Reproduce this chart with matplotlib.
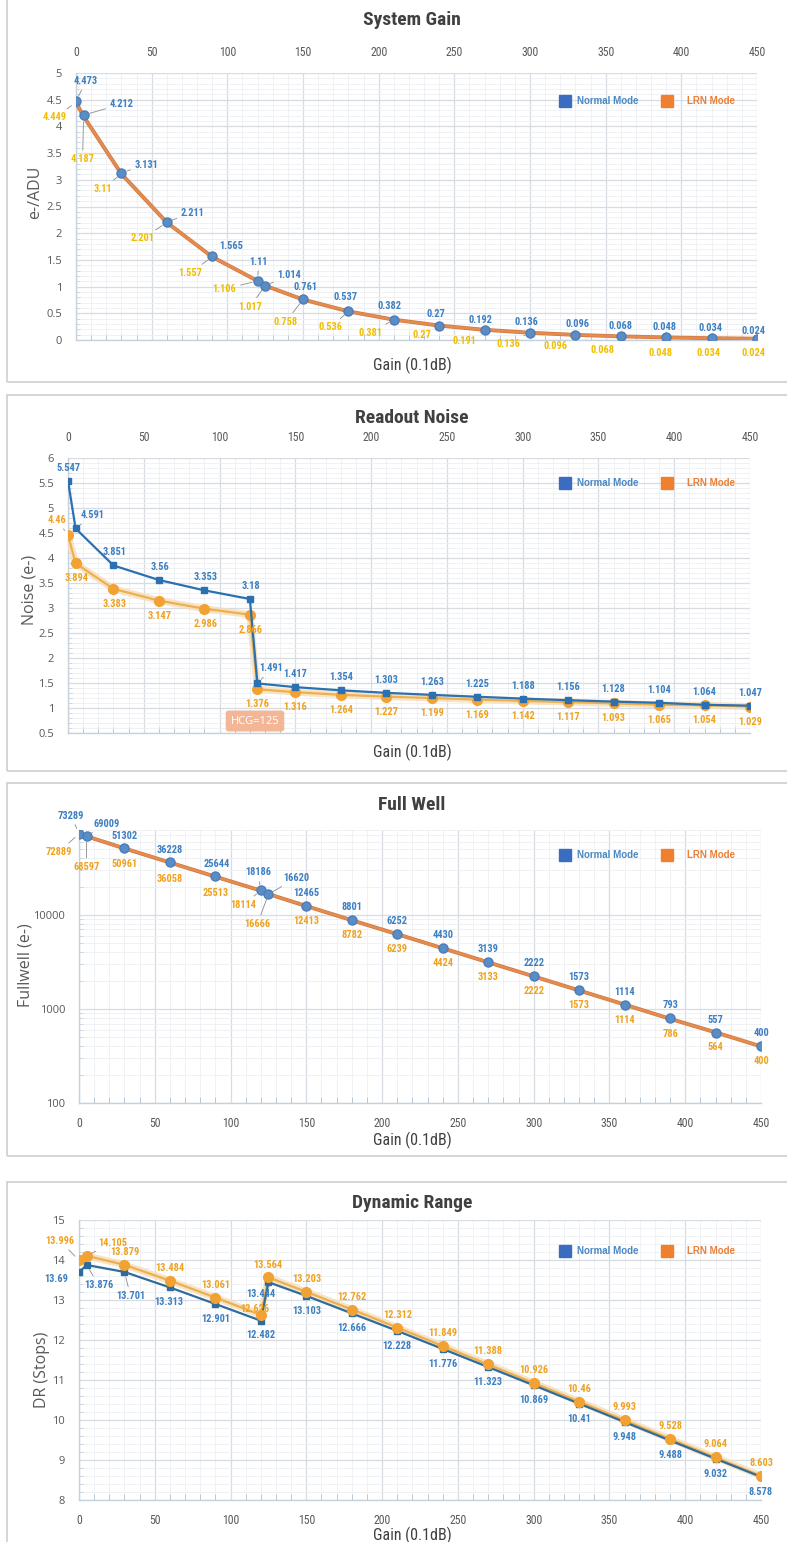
import matplotlib
matplotlib.use('Agg')
import matplotlib.pyplot as plt
from matplotlib import font_manager as fm
from matplotlib.font_manager import FontProperties
from matplotlib.ticker import MultipleLocator, FuncFormatter, LogLocator, NullFormatter, FixedLocator
from matplotlib.patches import Rectangle
from matplotlib.lines import Line2D
import matplotlib.patheffects as pe

# ---------------- DATA ----------------
gain = [0, 5, 30, 60, 90, 120, 125, 150, 180, 210, 240, 270, 300, 330, 360, 390, 420, 450]

sg_normal = [4.473, 4.212, 3.131, 2.211, 1.565, 1.11, 1.014, 0.761, 0.537, 0.382, 0.27, 0.192,
             0.136, 0.096, 0.068, 0.048, 0.034, 0.024]
sg_lrn = [4.449, 4.187, 3.11, 2.201, 1.557, 1.106, 1.017, 0.758, 0.536, 0.381, 0.27, 0.191,
          0.136, 0.096, 0.068, 0.048, 0.034, 0.024]

rn_normal = [5.547, 4.591, 3.851, 3.56, 3.353, 3.18, 1.491, 1.417, 1.354, 1.303, 1.263, 1.225,
             1.188, 1.156, 1.128, 1.104, 1.064, 1.047]
rn_lrn = [4.46, 3.894, 3.383, 3.147, 2.986, 2.866, 1.376, 1.316, 1.264, 1.227, 1.199, 1.169,
          1.142, 1.117, 1.093, 1.065, 1.054, 1.029]

fw_normal = [73289, 69009, 51302, 36228, 25644, 18186, 16620, 12465, 8801, 6252, 4430, 3139,
             2222, 1573, 1114, 793, 557, 400]
fw_lrn = [72889, 68597, 50961, 36058, 25513, 18114, 16666, 12413, 8782, 6239, 4424, 3133,
          2222, 1573, 1114, 786, 564, 400]

dr_normal = [13.69, 13.876, 13.701, 13.313, 12.901, 12.482, 13.444, 13.103, 12.666, 12.228,
             11.776, 11.323, 10.869, 10.41, 9.948, 9.488, 9.032, 8.578]
dr_lrn = [13.996, 14.105, 13.879, 13.484, 13.061, 12.626, 13.564, 13.203, 12.762, 12.312,
          11.849, 11.388, 10.926, 10.46, 9.993, 9.528, 9.064, 8.603]

titles = ["System Gain", "Readout Noise", "Full Well", "Dynamic Range"]
ylabels = ["e-/ADU", "Noise (e-)", "Fullwell (e-)", "DR (Stops)"]
xlabel = "Gain (0.1dB)"
legend_names = ["Normal Mode", "LRN Mode"]
hcg_note = "HCG=125"

# ---------------- STYLE (label offsets in pixels: dx right, dy down) ----------------
SG_N_OFF = [(10, -20), (38, -11), (25, -8), (26, -9), (19, -10), (1, -19), (24, -11), (2, -12),
            (-3, -14), (-4, -14), (-3, -12), (-4, -10), (-4, -11), (2, -11), (0, -10), (-2, -10),
            (-1, -10), (-3, -8)]
SG_N_LEAD = {0, 1, 2, 3, 4, 5, 6}
SG_L_OFF = [(-21, 15), (-1, 43), (-19, 15), (-24, 16), (-22, 16), (-33, 8), (-15, 21), (-17, 22),
            (-18, 16), (-23, 13), (-17, 9), (-20, 11), (-22, 11), (-20, 11), (-18, 14), (-6, 16),
            (-3, 15), (-4, 14)]
SG_L_LEAD = set(range(14))

RN_N_OFF = [(1, -13), (17, -13)] + [(1, -13)] * 4 + [(14, -15)] + [(0, -13)] * 11
RN_N_LEAD = {1, 6}
RN_L_OFF = [(-11, -15)] + [(1, 15)] * 5 + [(0, 15)] * 12
RN_L_LEAD = {0}

FW_N_OFF = [(-8, -18), (20, -12), (0, -12), (0, -12), (1, -12), (-3, -18), (28, -16)] + [(0, -13)] * 11
FW_N_LEAD = {0, 1, 5, 6}
FW_L_OFF = [(-20, 18), (0, 31), (0, 16), (0, 16), (0, 16), (-18, 14), (-11, 30)] + [(0, 15)] * 11
FW_L_LEAD = {0, 1, 5, 6}

DR_N_OFF = [(-23, 7), (12, 20), (6, 24), (-1, 15), (0, 15), (0, 14), (-8, 12)] + [(0, 15)] * 11
DR_N_LEAD = {1, 2}
DR_L_OFF = [(-19, -19), (26, -13), (0, -13), (0, -13), (0, -13), (-6, -6), (-1, -12)] + [(0, -13)] * 11
DR_L_LEAD = {0, 1}


# ---------------- fonts ----------------
def _w(f):
    w = f.weight
    if isinstance(w, str):
        w = {'bold': 700, 'normal': 400, 'regular': 400, 'medium': 500, 'semibold': 600,
             'light': 300, 'black': 900, 'heavy': 900, 'demibold': 600}.get(w.lower(), 400)
    return w


def find_condensed(target):
    pref = ['roboto condensed', 'liberation sans narrow', 'open sans condensed', 'dejavu sans',
            'noto sans', 'open sans', 'lato', 'inter']
    best, bscore = None, None
    for f in fm.fontManager.ttflist:
        fn = f.fname.lower().replace('\\', '/').split('/')[-1]
        nm = f.name.lower()
        cond = ('condensed' in fn or 'narrow' in fn or 'cond' in fn or
                'condensed' in nm or 'narrow' in nm or
                str(f.stretch).lower() in ('condensed', 'semi-condensed', 'extra-condensed'))
        if not cond or 'italic' in fn or 'oblique' in fn or f.style != 'normal':
            continue
        if 'extra' in fn or 'mono' in nm or 'serif' in nm and 'sans' not in nm:
            continue
        p = len(pref)
        for k, pn in enumerate(pref):
            if nm.startswith(pn):
                p = k
                break
        sc = abs(_w(f) - target) * 10 + p
        if bscore is None or sc < bscore:
            best, bscore = f.fname, sc
    return best


_cb = find_condensed(700)
_cr = find_condensed(400)
HAVE_COND = _cb is not None


def cfp(size, bold=False):
    fn = _cb if bold else _cr
    if fn is None:
        fn = _cb or _cr
    if fn is not None:
        return FontProperties(fname=fn, size=size)
    return FontProperties(family='DejaVu Sans', weight='bold' if bold else 'normal',
                          size=size * 0.85)


avail = {f.name for f in fm.fontManager.ttflist}
REG = ['Open Sans', 'DejaVu Sans'] if 'Open Sans' in avail else ['DejaVu Sans']
ARIAL = ['Liberation Sans', 'DejaVu Sans']

BLUE_LBL = '#3C7FC2'
GOLD_LBL1 = '#F0BE00'
GOLD_LBL = '#F0A21E'
BLUE_LINE = '#2B70B0'
BLUE_MK = '#5A8CC6'
ORANGE_LINE = '#E58B4E'
ORANGE_MK = '#F2A232'
GRID_MAJ = '#D6DCE2'
GRID_MIN = '#ECEFF2'
TXT = '#595959'

W, H = 787, 1542
fig = plt.figure(figsize=(W / 100, H / 100), dpi=100)
fig.patch.set_facecolor('white')


def rect(x0, y0, x1, y1):
    return [x0 / W, 1 - y1 / H, (x1 - x0) / W, (y1 - y0) / H]


def fx(x):
    return x / W


def fy(y):
    return 1 - y / H


# panel frames
for (y0, y1) in [(-10, 382), (395, 771), (783, 1156), (1182, 1560)]:
    fig.patches.append(Rectangle((fx(7), fy(y1)), fx(800) - fx(7), fy(y0) - fy(y1),
                                 transform=fig.transFigure, fill=False,
                                 edgecolor='#D2D2D2', lw=1.3, zorder=0))


def style_ticklabels(ax):
    for lab in ax.get_xticklabels():
        lab.set_fontproperties(cfp(8.5))
        lab.set_color(TXT)
    for lab in ax.get_yticklabels():
        lab.set_family(REG)
        lab.set_fontsize(8)
        lab.set_color(TXT)


def style_axis(ax, top_ticks, ymaj, ymin):
    ax.set_xlim(0, 450)
    ax.xaxis.set_major_locator(MultipleLocator(50))
    ax.xaxis.set_minor_locator(MultipleLocator(10))
    if ymaj is not None:
        ax.yaxis.set_major_locator(MultipleLocator(ymaj))
        ax.yaxis.set_minor_locator(MultipleLocator(ymin))
        ax.yaxis.set_major_formatter(FuncFormatter(lambda v, p: f"{v:g}"))
    ax.grid(True, which='major', color=GRID_MAJ, lw=0.9, zorder=0)
    ax.grid(True, which='minor', color=GRID_MIN, lw=0.6, zorder=0)
    ax.set_axisbelow(True)
    for s in ['top', 'right']:
        ax.spines[s].set_visible(False)
    for s in ['left', 'bottom']:
        ax.spines[s].set_color('#C5D2DE')
        ax.spines[s].set_linewidth(1.0)
    ax.tick_params(axis='both', which='major', length=0, colors=TXT)
    ax.tick_params(axis='x', which='minor', length=4, direction='in', color='#AFC0D0', bottom=True)
    ax.tick_params(axis='y', which='minor', length=3, direction='in', color='#C8D4DF', left=True)
    if top_ticks:
        ax.tick_params(axis='x', which='major', top=False, labeltop=True, labelbottom=False, pad=10)
    else:
        ax.tick_params(axis='x', which='major', pad=10)
    ax.tick_params(axis='y', which='major', pad=10)
    style_ticklabels(ax)


LBL_FP = cfp(7.5, bold=True)


def labels(ax, xs, ys, offs, leads, color):
    for i, (x, y) in enumerate(zip(xs, ys)):
        dx, dy = offs[i]
        ap = None
        if i in leads:
            ap = dict(arrowstyle='-', color='#8A8A8A', lw=0.6, shrinkA=1, shrinkB=4)
        ax.annotate(f"{y:g}", (x, y), xytext=(dx, -dy), textcoords='offset pixels',
                    ha='center', va='center', color=color, fontproperties=LBL_FP,
                    arrowprops=ap, zorder=6, annotation_clip=False)


def legend(y):
    fig.lines.append(Line2D([fx(565)], [fy(y)], transform=fig.transFigure, marker='s',
                            ms=8, color='#3A6CC0', ls='none'))
    fig.text(fx(577), fy(y), legend_names[0], ha='left', va='center', fontsize=7,
             fontweight='bold', color='#4A88C4', family=ARIAL)
    fig.lines.append(Line2D([fx(667)], [fy(y)], transform=fig.transFigure, marker='s',
                            ms=8, color='#F08030', ls='none'))
    fig.text(fx(687), fy(y), legend_names[1], ha='left', va='center', fontsize=7,
             fontweight='bold', color='#E8803A', family=ARIAL)


def titles_and_labels(i, ty, xly, ylx, yly):
    fig.text(fx(412), fy(ty), titles[i], ha='center', va='center', color='#404040',
             fontproperties=cfp(14, bold=True))
    fig.text(fx(412), fy(xly), xlabel, ha='center', va='center', color='#404040',
             fontproperties=cfp(11.5))
    fig.text(fx(ylx), fy(yly), ylabels[i], ha='center', va='center', fontsize=11.5,
             color=TXT, family=REG, rotation=90)


glow = [pe.Stroke(linewidth=5, foreground='#F6DDB8', alpha=0.8), pe.Normal()]

# ---------------- Panel 1: System Gain ----------------
ax1 = fig.add_axes(rect(76, 73, 757, 340))
ax1.set_ylim(0, 5)
style_axis(ax1, True, 0.5, 0.1)
ax1.plot(gain, sg_normal, color=BLUE_LINE, lw=1, zorder=3)
ax1.plot(gain, sg_lrn, color=ORANGE_LINE, lw=1.8, zorder=4,
         path_effects=[pe.Stroke(linewidth=2.8, foreground='#CD7B45'), pe.Normal()])
ax1.plot(gain, sg_normal, ls='none', marker='o', ms=6.5, color=BLUE_MK, mec='#4C7DB8', zorder=5)
labels(ax1, gain, sg_normal, SG_N_OFF, SG_N_LEAD, BLUE_LBL)
labels(ax1, gain, sg_lrn, SG_L_OFF, SG_L_LEAD, GOLD_LBL1)
legend(101)
titles_and_labels(0, 20, 365, 35, 192)

# ---------------- Panel 2: Readout Noise ----------------
ax2 = fig.add_axes(rect(68, 458, 750, 733))
ax2.set_ylim(0.5, 6)
style_axis(ax2, True, 0.5, 0.1)
ax2.plot(gain, rn_lrn, color='#EDB04E', lw=1.6, zorder=3, path_effects=glow)
ax2.plot(gain, rn_lrn, ls='none', marker='o', ms=7, color=ORANGE_MK, zorder=4)
ax2.plot(gain, rn_normal, color=BLUE_LINE, lw=1.6, marker='s', ms=4.5, zorder=5)
labels(ax2, gain, rn_normal, RN_N_OFF, RN_N_LEAD, BLUE_LBL)
labels(ax2, gain, rn_lrn, RN_L_OFF, RN_L_LEAD, GOLD_LBL)
fig.text(fx(255), fy(721), hcg_note, ha='center', va='center', fontsize=8, color='white',
         family=REG,
         bbox=dict(boxstyle='round,pad=0.45,rounding_size=0.3', fc='#F2B08C', ec='none', alpha=0.9))
legend(483)
titles_and_labels(1, 418, 752, 30, 590)

# ---------------- Panel 3: Full Well ----------------
ax3 = fig.add_axes(rect(79, 830, 761, 1103))
ax3.set_yscale('log')
ax3.set_ylim(100, 80000)
style_axis(ax3, False, None, None)
ax3.yaxis.set_major_locator(FixedLocator([100, 1000, 10000]))
ax3.yaxis.set_major_formatter(FuncFormatter(lambda v, p: f"{v:.0f}"))
ax3.yaxis.set_minor_locator(LogLocator(base=10, subs=range(2, 10)))
ax3.yaxis.set_minor_formatter(NullFormatter())
style_ticklabels(ax3)
ax3.plot(gain, fw_normal, color=BLUE_LINE, lw=1, zorder=3)
ax3.plot(gain, fw_lrn, color=ORANGE_LINE, lw=1.8, zorder=4,
         path_effects=[pe.Stroke(linewidth=2.8, foreground='#CD7B45'), pe.Normal()])
ax3.plot(gain, fw_normal, ls='none', marker='o', ms=6.5, color=BLUE_MK, mec='#4C7DB8', zorder=5)
labels(ax3, gain, fw_normal, FW_N_OFF, FW_N_LEAD, BLUE_LBL)
labels(ax3, gain, fw_lrn, FW_L_OFF, FW_L_LEAD, GOLD_LBL)
legend(855)
titles_and_labels(2, 805, 1140, 25, 965)

# ---------------- Panel 4: Dynamic Range ----------------
ax4 = fig.add_axes(rect(79, 1220, 761, 1500))
ax4.set_ylim(8, 15)
style_axis(ax4, False, 1, 0.2)
ax4.plot(gain, dr_lrn, color='#EDB04E', lw=1.6, zorder=3, path_effects=glow)
ax4.plot(gain, dr_normal, color='#2F6C9E', lw=1.6, marker='s', ms=4.5, zorder=4)
ax4.plot(gain, dr_lrn, ls='none', marker='o', ms=7, color=ORANGE_MK, zorder=5)
labels(ax4, gain, dr_normal, DR_N_OFF, DR_N_LEAD, BLUE_LBL)
labels(ax4, gain, dr_lrn, DR_L_OFF, DR_L_LEAD, GOLD_LBL)
legend(1251)
titles_and_labels(3, 1203, 1535, 42, 1370)

fig.savefig('out.png', dpi=100, facecolor='white')
